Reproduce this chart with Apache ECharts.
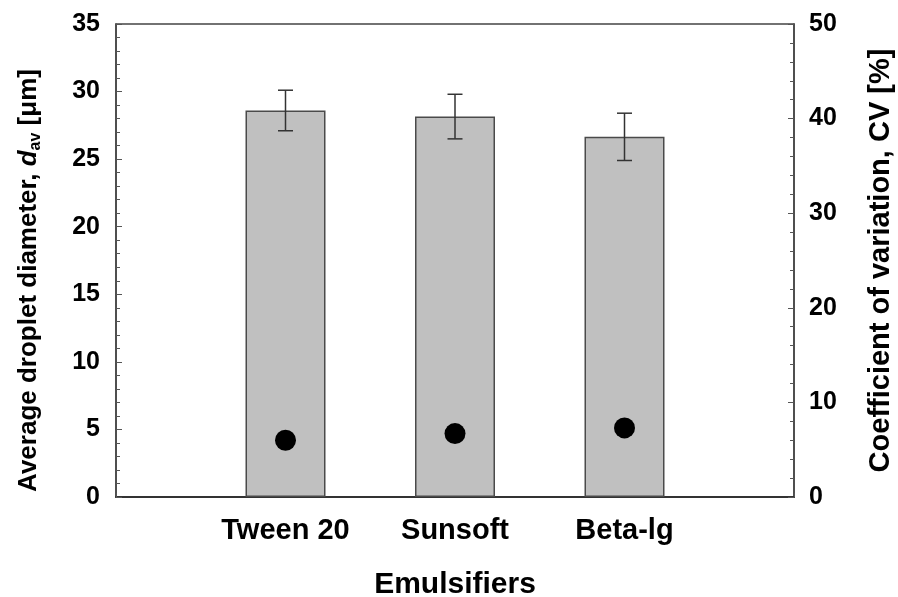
<!DOCTYPE html>
<html>
<head>
<meta charset="utf-8">
<script src="https://cdn.jsdelivr.net/npm/echarts@6/dist/echarts.min.js"></script>
<style>
  html, body { margin: 0; padding: 0; background: #fff; }
  #chart { width: 898px; height: 597px; }
</style>
</head>
<body>
<div id="chart"></div>
<script>
// empty slots at both ends keep the bars at 1/4, 2/4, 3/4 of the width
const categories = ['', 'Tween 20', 'Sunsoft', 'Beta-lg', ''];
const diameter = [null, 28.6, 28.15, 26.65, null];   // d_av [um]
const diameterErr = [null, 1.5, 1.65, 1.75, null];  // +/- sd
const cvValues = [null, 6.0, 6.7, 7.3, null];       // CV [%]

const FONT = '"Liberation Sans", Arial, sans-serif';

var chart = echarts.init(document.getElementById('chart'));

// error bar rows: [index, low, high]
var errData = [];
diameter.forEach(function (v, i) {
  if (v != null) errData.push([i, v - diameterErr[i], v + diameterErr[i]]);
});

var option = {
  backgroundColor: '#fff',
  animation: false,
  grid: {
    left: 116, right: 104, top: 24, bottom: 100,
    outerBoundsMode: 'none',
    containLabel: false,
    show: true, borderColor: '#444', borderWidth: 1.5, backgroundColor: 'transparent'
  },
  xAxis: {
    type: 'category',
    data: categories,
    boundaryGap: false,
    name: 'Emulsifiers',
    nameLocation: 'middle',
    nameGap: 73,
    nameTextStyle: { fontFamily: FONT, fontWeight: 'bold', fontSize: 30, color: '#000' },
    axisLine: { lineStyle: { color: '#333', width: 2 } },
    axisTick: { inside: true, length: 4, lineStyle: { color: '#555' } },
    splitLine: { show: false },
    axisLabel: { fontFamily: FONT, fontWeight: 'bold', fontSize: 29, color: '#000', margin: 19, interval: 0 }
  },
  yAxis: [
    {
      type: 'value',
      min: 0, max: 35, interval: 5,
      name: '{n|Average droplet diameter, }{i|d}{s|av}{n| [\u03bcm]}',
      nameLocation: 'middle',
      nameRotate: 90,
      nameGap: 72,
      nameTextStyle: {
        padding: [0, 40, 0, 0],
        rich: {
          n: { fontFamily: FONT, fontWeight: 'bold', fontSize: 26, color: '#000', lineHeight: 30 },
          i: { fontFamily: FONT, fontWeight: 'bold', fontStyle: 'italic', fontSize: 26, color: '#000', lineHeight: 30 },
          s: { fontFamily: FONT, fontWeight: 'bold', fontSize: 16, color: '#000', lineHeight: 14, verticalAlign: 'bottom' }
        }
      },
      axisLine: { show: true, lineStyle: { color: '#444', width: 1.5 } },
      axisTick: { show: true, inside: true, length: 6, lineStyle: { color: '#555' } },
      minorTick: { show: true, splitNumber: 5, length: 4, lineStyle: { color: '#555' } },
      splitLine: { show: false },
      axisLabel: { fontFamily: FONT, fontWeight: 'bold', fontSize: 25, color: '#000', margin: 16 }
    },
    {
      type: 'value',
      min: 0, max: 50, interval: 10,
      position: 'right',
      name: 'Coefficient of variation, CV [%]',
      nameLocation: 'middle',
      nameRotate: 90,
      nameGap: 72,
      nameTextStyle: { fontFamily: FONT, fontWeight: 'bold', fontSize: 29, color: '#000' },
      axisLine: { show: true, lineStyle: { color: '#444', width: 1.5 } },
      axisTick: { show: true, inside: true, length: 6, lineStyle: { color: '#555' } },
      minorTick: { show: true, splitNumber: 5, length: 4, lineStyle: { color: '#555' } },
      splitLine: { show: false },
      axisLabel: { fontFamily: FONT, fontWeight: 'bold', fontSize: 25, color: '#000', margin: 15 }
    }
  ],
  series: [
    {
      name: 'd_av',
      type: 'bar',
      data: diameter,
      barWidth: 80,
      itemStyle: { color: '#c0c0c0', borderColor: '#4a4a4a', borderWidth: 1.5 }
    },
    {
      name: 'sd',
      type: 'custom',
      data: errData,
      z: 5,
      renderItem: function (params, api) {
        var lo = api.coord([api.value(0), api.value(1)]);
        var hi = api.coord([api.value(0), api.value(2)]);
        var w = 7.5;
        var style = { stroke: '#333', lineWidth: 1.5 };
        return {
          type: 'group',
          children: [
            { type: 'line', shape: { x1: hi[0], y1: hi[1], x2: lo[0], y2: lo[1] }, style: style },
            { type: 'line', shape: { x1: hi[0] - w, y1: hi[1], x2: hi[0] + w, y2: hi[1] }, style: style },
            { type: 'line', shape: { x1: lo[0] - w, y1: lo[1], x2: lo[0] + w, y2: lo[1] }, style: style }
          ]
        };
      }
    },
    {
      name: 'CV',
      type: 'scatter',
      yAxisIndex: 1,
      data: cvValues,
      symbol: 'circle',
      symbolSize: 21,
      z: 6,
      itemStyle: { color: '#000', opacity: 1 }
    }
  ]
};

chart.setOption(option);
</script>
</body>
</html>
